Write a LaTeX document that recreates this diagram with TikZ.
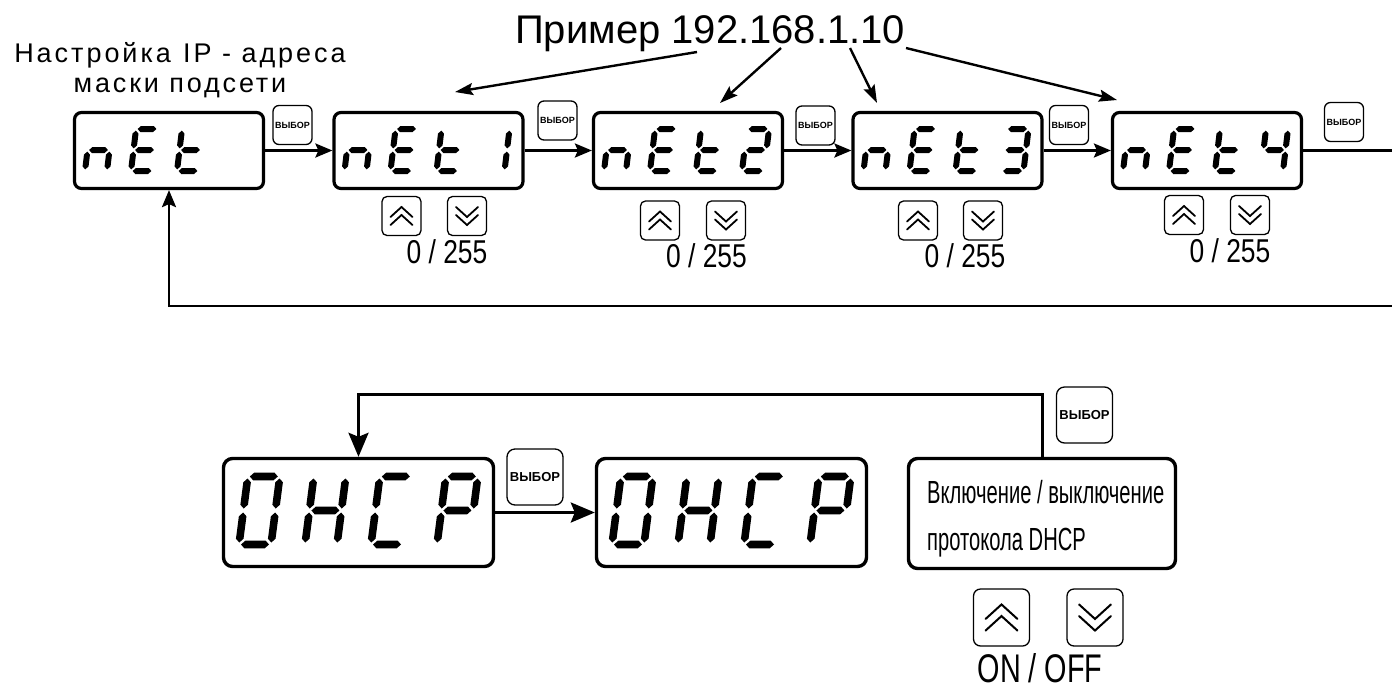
\documentclass[tikz,border=0pt]{standalone}
\usepackage{fontspec}
\setmainfont{Liberation Sans}
\newfontfamily\fnA[FakeStretch=0.8]{Liberation Sans}
\newfontfamily\fnB[FakeStretch=0.63]{Liberation Sans}
\newfontfamily\fnC[FakeStretch=0.72]{Liberation Sans}
\newfontfamily\fnS[LetterSpace=11]{Liberation Sans}
\newfontfamily\fnT[LetterSpace=10.5]{Liberation Sans}
\usetikzlibrary{arrows.meta}

% seven-segment parameters (top row)
\def\dW{22}\def\dH{42}\def\dT{3.0}\def\dG{1.6}\def\dS{0.12}
\newcommand\segH[3]{\fill ({#1},{#3}) -- ({#1+\dT},{#3+\dT}) -- ({#2-\dT},{#3+\dT}) -- ({#2},{#3}) -- ({#2-\dT},{#3-\dT}) -- ({#1+\dT},{#3-\dT}) -- cycle;}
\newcommand\segV[3]{\fill ({#1},{#2}) -- ({#1+\dT},{#2+\dT}) -- ({#1+\dT},{#3-\dT}) -- ({#1},{#3}) -- ({#1-\dT},{#3-\dT}) -- ({#1-\dT},{#2+\dT}) -- cycle;}
\newcommand\dsega{\segH{\dG}{\dW-\dG}{\dH}}
\newcommand\dsegb{\segV{\dW}{\dH/2+\dG}{\dH-\dG}}
\newcommand\dsegc{\segV{\dW}{\dG}{\dH/2-\dG}}
\newcommand\dsegd{\segH{\dG}{\dW-\dG}{0}}
\newcommand\dsege{\segV{0}{\dG}{\dH/2-\dG}}
\newcommand\dsegf{\segV{0}{\dH/2+\dG}{\dH-\dG}}
\newcommand\dsegg{\segH{\dG}{\dW-\dG}{\dH/2}}
\newcommand\digit[2]{\begin{scope}[shift={#1}, y=1pt, xslant=\dS]\foreach \s in {#2}{\csname dseg\s\endcsname}\end{scope}}
\newcommand\chev[4]{\begin{scope}[shift={(#1.center)}, scale=#2, yscale=#3]
  \draw[line width=#4, line cap=round, line join=miter] (-11,1) -- (0,-9) -- (11,1) (-11,9) -- (0,-1) -- (11,9);
  \end{scope}}

\tikzset{
  disp/.style={draw, line width=3.2pt, rounded corners=7pt, minimum width=189pt, minimum height=76pt, inner sep=0pt},
  dispb/.style={draw, line width=3.4pt, rounded corners=9pt, minimum width=270pt, minimum height=108pt, inner sep=0pt},
  selbtn/.style={draw, line width=1.3pt, rounded corners=6pt, minimum width=39pt, minimum height=39pt, inner sep=0pt, font=\fontsize{9}{9}\selectfont\bfseries},
  selbig/.style={selbtn, rounded corners=8pt, minimum width=56pt, minimum height=56pt, font=\fontsize{13}{13}\selectfont\bfseries},
  keybtn/.style={draw, line width=1.3pt, rounded corners=5pt, minimum width=39pt, minimum height=39pt, inner sep=0pt},
  keybig/.style={keybtn, rounded corners=7pt, minimum width=56pt, minimum height=57pt},
  conn/.style={line width=2.6pt, -{Stealth[length=17pt,width=14pt,inset=3pt]}},
  tconn/.style={line width=2.4pt, -{Stealth[length=18pt,width=12pt,inset=3pt]}},
  connb/.style={line width=3pt, -{Stealth[length=24pt,width=20pt,inset=4pt]}},
  val/.style={anchor=base, inner sep=0pt, font=\fnA\fontsize{33}{33}\selectfont},
  txt/.style={inner sep=0pt}
}

\begin{document}
\begin{tikzpicture}[x=1pt, y=-1pt]
\path[fill=white, use as bounding box] (0,0) rectangle (1392,689);

% titles
\node[txt, anchor=base west, font=\fontsize{40}{40}\selectfont] (title) at (515,43) {Пример 192.168.1.10};
\node[txt, anchor=base, font=\fnS\fontsize{27}{27}\selectfont] (h1) at (180,62) {Настройка\hspace{0.45em}IP - адреса};
\node[txt, anchor=base, font=\fnT\fontsize{27}{27}\selectfont] (h2) at (180,92) {маски подсети};

% top displays
\node[disp] (d1) at (169,150.5) {};
\node[disp] (d2) at (428.5,150.5) {};
\node[disp] (d3) at (688,150.5) {};
\node[disp] (d4) at (947.5,150.5) {};
\node[disp] (d5) at (1207,150.5) {};

\digit{(85,171)}{c,e,g}\digit{(131,171)}{a,d,e,f,g}\digit{(177,171)}{d,e,f,g}
\digit{(344.5,171)}{c,e,g}\digit{(390.5,171)}{a,d,e,f,g}\digit{(436.5,171)}{d,e,f,g}\digit{(482.5,171)}{b,c}
\digit{(604,171)}{c,e,g}\digit{(650,171)}{a,d,e,f,g}\digit{(696,171)}{d,e,f,g}\digit{(742,171)}{a,b,g,e,d}
\digit{(863.5,171)}{c,e,g}\digit{(909.5,171)}{a,d,e,f,g}\digit{(955.5,171)}{d,e,f,g}\digit{(1001.5,171)}{a,b,c,d,g}
\digit{(1123,171)}{c,e,g}\digit{(1169,171)}{a,d,e,f,g}\digit{(1215,171)}{d,e,f,g}\digit{(1261,171)}{b,c,f,g}

% select buttons (top)
\node[selbtn] (b1) at (292.5,125) {ВЫБОР};
\node[selbtn] (b2) at (557.5,120.5) {ВЫБОР};
\node[selbtn] (b3) at (815.5,125.5) {ВЫБОР};
\node[selbtn] (b4) at (1069,125) {ВЫБОР};
\node[selbtn] (b5) at (1344,122) {ВЫБОР};

% up/down keys (top)
\node[keybtn] (u2) at (401.5,216) {}; \node[keybtn] (v2) at (467,216) {};
\node[keybtn] (u3) at (660,220.5) {}; \node[keybtn] (v3) at (726,220.5) {};
\node[keybtn] (u4) at (918,220.5) {}; \node[keybtn] (v4) at (983,220.5) {};
\node[keybtn] (u5) at (1184,215) {}; \node[keybtn] (v5) at (1250,215) {};
\chev{u2}{1}{1}{1.8pt}\chev{v2}{1}{-1}{1.8pt}
\chev{u3}{1}{1}{1.8pt}\chev{v3}{1}{-1}{1.8pt}
\chev{u4}{1}{1}{1.8pt}\chev{v4}{1}{-1}{1.8pt}
\chev{u5}{1}{1}{1.8pt}\chev{v5}{1}{-1}{1.8pt}

\node[val] (r2) at (447,263) {0 / 255};
\node[val] (r3) at (706.5,267) {0 / 255};
\node[val] (r4) at (965,267) {0 / 255};
\node[val] (r5) at (1230,262) {0 / 255};

% top connectors
\draw[conn] (d1.east) -- (d2.west);
\draw[conn] (d2.east) -- (d3.west);
\draw[conn] (d3.east) -- (d4.west);
\draw[conn] (d4.east) -- (d5.west);
\coordinate (q1) at (1396,150.5);
\coordinate (q2) at (1396,306);
\draw[conn] (d5.east) -- (q1) -- (q2) -- (d1.south |- q2) -- (d1.south);

% title arrows
\coordinate (ta1) at (697,52);  \coordinate (ha1) at (455,92);
\coordinate (ta2) at (781,48);  \coordinate (ha2) at (720,103);
\coordinate (ta3) at (850,48);  \coordinate (ha3) at (877,103);
\coordinate (ta4) at (906,48);  \coordinate (ha4) at (1117,100);
\draw[tconn] (ta1) -- (ha1);
\draw[tconn] (ta2) -- (ha2);
\draw[tconn] (ta3) -- (ha3);
\draw[tconn] (ta4) -- (ha4);

% bottom displays
\node[dispb] (e1) at (358.5,512.5) {};
\node[dispb] (e2) at (731.5,512.5) {};
\node[dispb, minimum width=267pt, minimum height=110pt] (tb) at (1042,513.5) {};
\node[txt, anchor=base west, font=\fnB\fontsize{32}{32}\selectfont] (tb1) at (927,503) {Включение / выключение};
\node[txt, anchor=base west, font=\fnB\fontsize{32}{32}\selectfont] (tb2) at (927,550) {протокола DHCP};

\begin{scope}
\def\dW{32}\def\dH{68}\def\dT{3.8}\def\dG{2}\def\dS{0.13}
\digit{(239,544.5)}{a,b,c,d,e,f}\digit{(305,544.5)}{b,c,e,f,g}\digit{(371,544.5)}{a,d,e,f}\digit{(437,544.5)}{a,b,e,f,g}
\digit{(612,544.5)}{a,b,c,d,e,f}\digit{(678,544.5)}{b,c,e,f,g}\digit{(744,544.5)}{a,d,e,f}\digit{(810,544.5)}{a,b,e,f,g}
\end{scope}

\node[selbig] (b6) at (535,477) {ВЫБОР};
\node[selbig] (b7) at (1084.5,415) {ВЫБОР};
\node[keybig] (u6) at (1001.5,617.5) {};
\node[keybig] (v6) at (1095,617.5) {};
\chev{u6}{1.45}{1}{2pt}\chev{v6}{1.45}{-1}{2pt}
\node[txt, anchor=base, font=\fnC\fontsize{40}{40}\selectfont] (onoff) at (1040,682) {ON / OFF};

\draw[connb] (e1.east) -- (e2.west);
\coordinate (lt) at (1042,394);
\draw[connb] (tb.north) -- (lt) -- (e1.north |- lt) -- (e1.north);
\end{tikzpicture}
\end{document}
